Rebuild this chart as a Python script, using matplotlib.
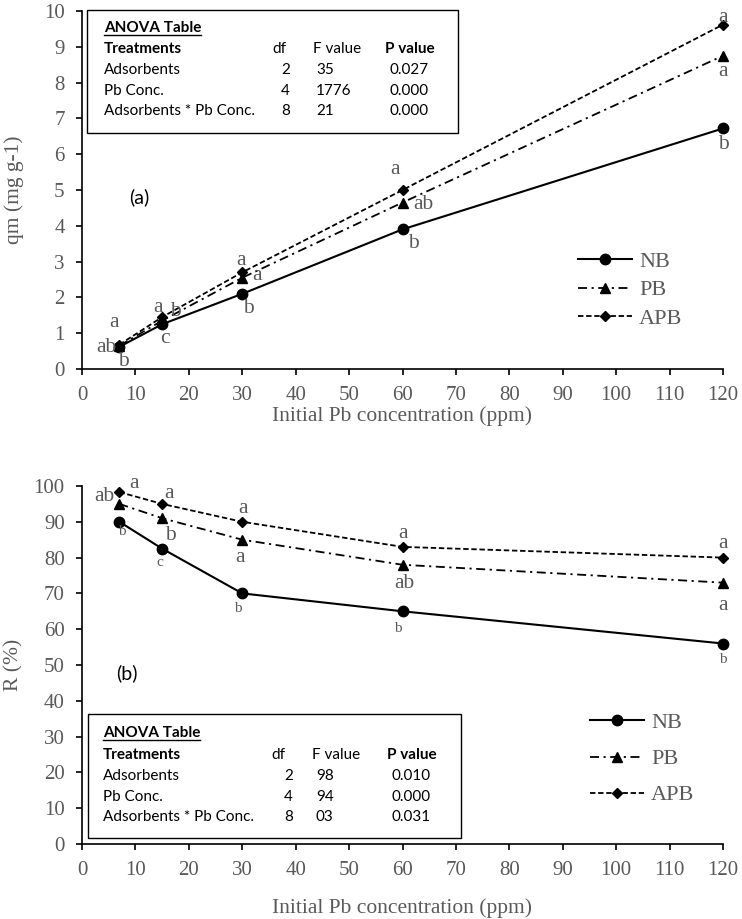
import matplotlib
matplotlib.use('Agg')
import matplotlib.pyplot as plt
from matplotlib.patches import Rectangle
from matplotlib.lines import Line2D

# ---------------- data ----------------
conc = [7, 15, 30, 60, 120]
qm_NB = [0.62, 1.25, 2.10, 3.90, 6.72]
qm_PB = [0.65, 1.35, 2.55, 4.65, 8.75]
qm_APB = [0.68, 1.45, 2.70, 5.00, 9.62]
R_NB = [90.0, 82.5, 70.0, 65.0, 56.0]
R_PB = [95.0, 91.0, 85.0, 78.0, 73.0]
R_APB = [98.3, 95.0, 90.0, 83.0, 80.0]
series_names = ['NB', 'PB', 'APB']
xticks = list(range(0, 121, 10))
xtick_labels = [str(v) for v in xticks]
yticks_a = list(range(0, 11))
ytick_labels_a = [str(v) for v in yticks_a]
yticks_b = list(range(0, 101, 10))
ytick_labels_b = [str(v) for v in yticks_b]

anova_rows = ['Adsorbents', 'Pb Conc.', 'Adsorbents * Pb Conc.']
anova_df = ['2', '4', '8']
anova_F_a = ['35', '1776', '21']
anova_P_a = ['0.027', '0.000', '0.000']
anova_F_b = ['98', '94', '03']
anova_P_b = ['0.010', '0.000', '0.031']

# significance letters (x, y, text, small?)
letters_a = [(6.0, 1.31, 'a', 0), (4.5, 0.59, 'ab', 0), (7.7, 0.20, 'b', 0),
             (14.3, 1.72, 'a', 0), (17.4, 1.62, 'b', 0), (15.5, 0.84, 'c', 0),
             (29.8, 3.04, 'a', 0), (32.8, 2.62, 'a', 0), (31.1, 1.70, 'b', 0),
             (58.6, 5.58, 'a', 0), (64.0, 4.60, 'ab', 0), (62.0, 3.50, 'b', 0),
             (120.0, 9.83, 'a', 0), (120.0, 8.30, 'a', 0), (120.0, 6.26, 'b', 0)]
letters_b = [(9.7, 100.8, 'a', 0), (4.1, 97.2, 'ab', 0), (7.4, 87.2, 'b', 1),
             (16.3, 98.0, 'a', 0), (16.5, 86.3, 'b', 0), (14.5, 78.5, 'c', 1),
             (30.1, 93.6, 'a', 0), (29.6, 79.9, 'a', 0), (29.2, 65.9, 'b', 1),
             (60.1, 86.6, 'a', 0), (60.4, 72.9, 'ab', 0), (59.1, 60.3, 'b', 1),
             (120.0, 84.0, 'a', 0), (120.0, 66.5, 'a', 0), (120.0, 51.4, 'b', 1)]

# ---------------- style ----------------
W, H = 742, 919
GRAY = '#595959'
SERIF = ['Liberation Serif', 'DejaVu Serif']
SANS = ['Lato', 'DejaVu Sans']
plt.rcParams['font.family'] = SERIF
styles = {
    'NB': dict(ls='-', marker='o', ms=7.5, lw=1.5),
    'PB': dict(ls=(0, (5, 2.5, 1.2, 2.5)), marker='^', ms=6.5, lw=1.3),
    'APB': dict(ls=(0, (3, 1.5)), marker='D', ms=4.8, lw=1.3),
}

fig = plt.figure(figsize=(W / 100, H / 100), dpi=100)


def fx(px):
    return px / W


def fy(py):
    return 1 - py / H


def setup(ax, ylim, yticks, ylabels, labelpad):
    ax.set_xlim(0, 120)
    ax.set_ylim(*ylim)
    ax.set_xticks(xticks)
    ax.set_xticklabels(xtick_labels, fontfamily=SERIF, fontsize=15, color=GRAY)
    ax.set_yticks(yticks)
    ax.set_yticklabels(ylabels, fontfamily=SERIF, fontsize=15, color=GRAY)
    for s in ['top', 'right']:
        ax.spines[s].set_visible(False)
    for s in ['left', 'bottom']:
        ax.spines[s].set_color('black')
        ax.spines[s].set_linewidth(1.2)
    ax.tick_params(direction='out', length=4.5, width=1.2, color='black', pad=8)
    ax.set_xlabel('Initial Pb concentration (ppm)', fontsize=15.5, color=GRAY,
                  fontfamily=SERIF, labelpad=labelpad)


def draw_series(ax, ys):
    handles = []
    for name, y in zip(series_names, ys):
        st = styles[name]
        h, = ax.plot(conc, y, color='black', linestyle=st['ls'], lw=st['lw'],
                     marker=st['marker'], ms=st['ms'], mfc='black', mec='black',
                     clip_on=False, label=name, zorder=3)
        handles.append(h)
    return handles


def anova_box(x0, y0, x1, y1, rows_y, F, P, colx):
    fig.patches.append(Rectangle((fx(x0), fy(y1)), fx(x1) - fx(x0), fy(y0) - fy(y1),
                                 transform=fig.transFigure, fill=True, fc='white',
                                 ec='black', lw=1.0, zorder=5))
    fs = 11
    lx, dfx, fhx, fvx, phx, pvx = colx
    t = fig.text(fx(lx), fy(rows_y[0]), 'ANOVA Table', family=SANS, fontsize=fs,
                 fontweight='bold', va='center', ha='left', zorder=6)
    fig.canvas.draw()
    bb = t.get_window_extent()
    fig.add_artist(Line2D([bb.x0 / W, bb.x1 / W], [bb.y0 / H + 0.0005, bb.y0 / H + 0.0005],
                          transform=fig.transFigure, color='black', lw=1.0, zorder=6))
    yT = rows_y[1]
    fig.text(fx(lx), fy(yT), 'Treatments', family=SANS, fontsize=fs,
             fontweight='bold', va='center', ha='left', zorder=6)
    fig.text(fx(fhx - 41), fy(yT), 'df', family=SANS, fontsize=fs, va='center', ha='left', zorder=6)
    fig.text(fx(fhx), fy(yT), 'F value', family=SANS, fontsize=fs, va='center', ha='left', zorder=6)
    fig.text(fx(phx), fy(yT), 'P value', family=SANS, fontsize=fs, fontweight='bold',
             va='center', ha='left', zorder=6)
    for i, name in enumerate(anova_rows):
        yy = fy(rows_y[2 + i])
        fig.text(fx(lx), yy, name, family=SANS, fontsize=fs, va='center', ha='left', zorder=6)
        fig.text(fx(dfx), yy, anova_df[i], family=SANS, fontsize=fs, va='center', ha='right', zorder=6)
        fig.text(fx(fvx), yy, F[i], family=SANS, fontsize=fs, va='center', ha='left', zorder=6)
        fig.text(fx(pvx), yy, P[i], family=SANS, fontsize=fs, va='center', ha='left', zorder=6)


# ---------------- panel (a) ----------------
ax1 = fig.add_axes([fx(82), fy(369), fx(723) - fx(82), fy(11) - fy(369)])
setup(ax1, (0, 10), yticks_a, ytick_labels_a, 1)
h1 = draw_series(ax1, [qm_NB, qm_PB, qm_APB])
for x, y, s, small in letters_a:
    ax1.text(x, y, s, ha='center', va='center', fontsize=11 if small else 15.5,
             color=GRAY, fontfamily=SERIF, zorder=4)
ax1.text(fx(139), fy(197), '(a)', transform=fig.transFigure, family=SANS, fontsize=14,
         ha='center', va='center')
leg1 = ax1.legend(handles=h1, loc='center left', bbox_to_anchor=(fx(578), fy(290)),
                  bbox_transform=fig.transFigure, frameon=False, handlelength=2.45,
                  handletextpad=0.3, labelspacing=0.35, borderpad=0, borderaxespad=0,
                  prop={'family': SERIF, 'size': 16})
for t in leg1.get_texts():
    t.set_color(GRAY)
fig.text(fx(14), fy(190), 'qm (mg g-1)', rotation=90, ha='center', va='center',
         fontsize=15.5, color=GRAY, fontfamily=SERIF)

# ---------------- panel (b) ----------------
ax2 = fig.add_axes([fx(82), fy(844), fx(723) - fx(82), fy(486) - fy(844)])
setup(ax2, (0, 100), yticks_b, ytick_labels_b, 13)
h2 = draw_series(ax2, [R_NB, R_PB, R_APB])
for x, y, s, small in letters_b:
    ax2.text(x, y, s, ha='center', va='center', fontsize=11 if small else 15.5,
             color=GRAY, fontfamily=SERIF, zorder=4)
ax2.text(fx(127), fy(673), '(b)', transform=fig.transFigure, family=SANS, fontsize=14,
         ha='center', va='center')
leg2 = ax2.legend(handles=h2, loc='center left', bbox_to_anchor=(fx(590), fy(759)),
                  bbox_transform=fig.transFigure, frameon=False, handlelength=2.45,
                  handletextpad=0.3, labelspacing=0.7, borderpad=0, borderaxespad=0,
                  prop={'family': SERIF, 'size': 16})
for t in leg2.get_texts():
    t.set_color(GRAY)
fig.text(fx(14), fy(665), 'R (%)', rotation=90, ha='center', va='center',
         fontsize=15.5, color=GRAY, fontfamily=SERIF)

# ---------------- ANOVA boxes ----------------
anova_box(87, 10, 458, 133, [28, 49, 70, 91, 111], anova_F_a, anova_P_a,
          (104, 290, 313, 316, 385, 390))
anova_box(88, 714, 461, 838, [733, 755, 776, 797, 817], anova_F_b, anova_P_b,
          (103, 293, 312, 316, 387, 391))

fig.savefig('out.png', dpi=100)
